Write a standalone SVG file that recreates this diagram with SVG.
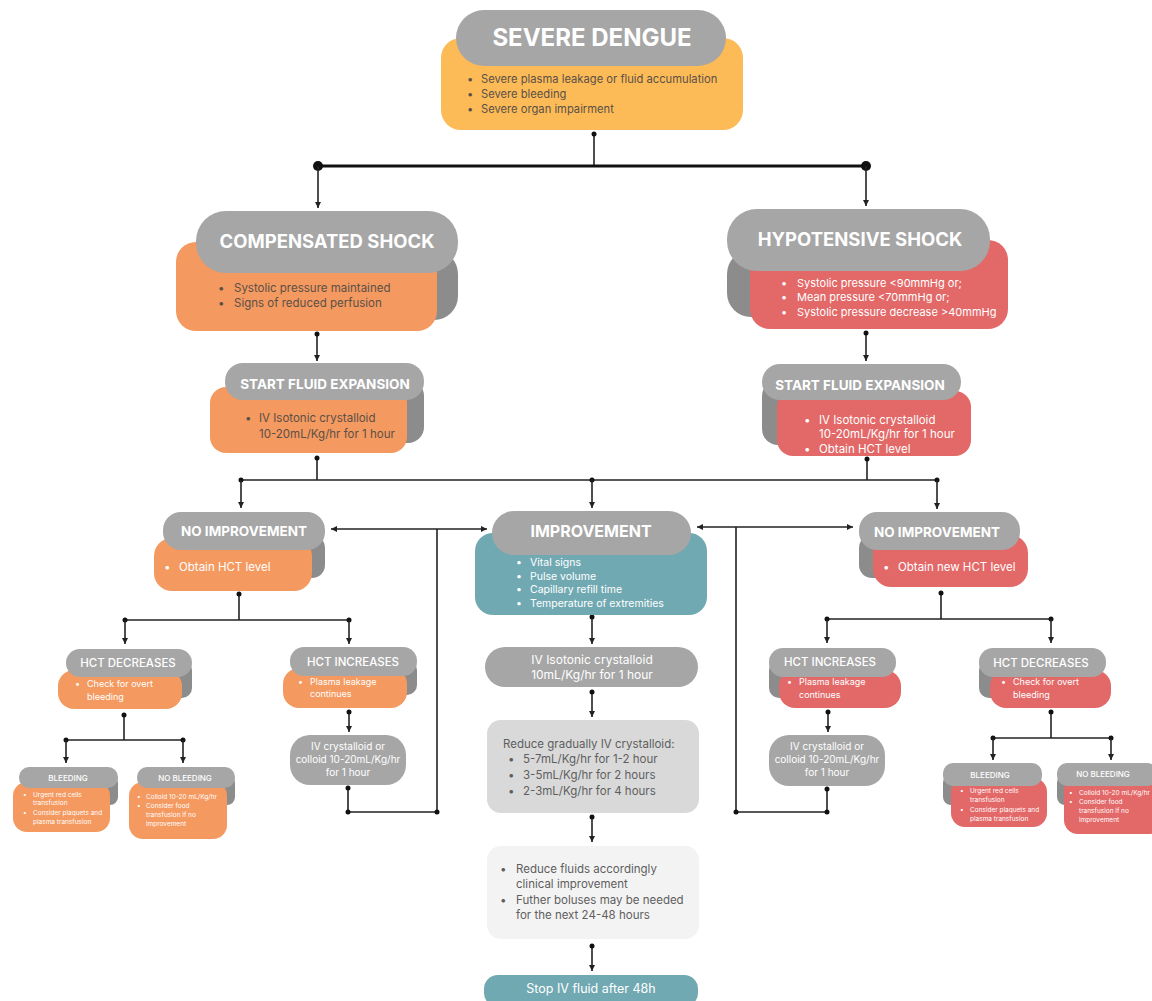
<svg xmlns="http://www.w3.org/2000/svg" width="1152" height="1001" viewBox="0 0 1152 1001">
<defs>
<style>
.hd{fill:#A6A6A6}
.cu{fill:#8C8C8C}
.yl{fill:#FDBB57}
.or{fill:#F4995F}
.rd{fill:#E36868}
.tl{fill:#71A9B2}
.lg{fill:#D9D9D9}
.vl{fill:#F4F3F3}
text{font-family:Inter,"Noto Sans","Liberation Sans",sans-serif}
.th{fill:#FFFFFF;font-weight:700;text-anchor:middle}
.tm{fill:#FFFFFF;font-weight:500;text-anchor:middle}
.tn{fill:#FFFFFF;font-weight:400;text-anchor:middle}
.dk{fill:#5A5048}
.wt{fill:#FFFFFF}
.gy{fill:#5E5E5E}
.ln{fill:none;stroke:#222;stroke-width:1.6}
.thk{fill:none;stroke:#111;stroke-width:3}
.ar{marker-end:url(#arr)}
.dt{fill:#111}
</style>
<marker id="arr" viewBox="0 0 6 6" refX="6" refY="3" markerWidth="6" markerHeight="6" markerUnits="userSpaceOnUse" orient="auto-start-reverse">
<path d="M0,0 L6,3 L0,6 z" fill="#222"/>
</marker>
</defs>
<rect width="1152" height="1001" fill="#FFFFFF"/>

<g id="connectors">
<line class="ln" x1="594" y1="133" x2="594" y2="166"/>
<line class="thk" x1="318" y1="166" x2="866" y2="166"/>
<circle class="dt" cx="318" cy="166" r="5"/>
<circle class="dt" cx="866" cy="166" r="5"/>
<circle class="dt" cx="594" cy="134" r="2.5"/>
<line class="ln ar" x1="318" y1="166" x2="318" y2="208"/>
<line class="ln ar" x1="866" y1="166" x2="866" y2="206"/>

<line class="ln ar" x1="317" y1="334" x2="317" y2="361"/>
<circle class="dt" cx="317" cy="334" r="2.5"/>
<line class="ln ar" x1="866" y1="333" x2="866" y2="361"/>
<circle class="dt" cx="866" cy="333" r="2.5"/>

<line class="ln" x1="317" y1="458" x2="317" y2="480"/>
<circle class="dt" cx="317" cy="458" r="2.5"/>
<line class="ln" x1="867" y1="459" x2="867" y2="480"/>
<circle class="dt" cx="867" cy="459" r="2.5"/>
<line class="ln" x1="241" y1="480" x2="937" y2="480"/>
<circle class="dt" cx="241" cy="480" r="2.5"/>
<circle class="dt" cx="592" cy="480" r="2.5"/>
<circle class="dt" cx="937" cy="480" r="2.5"/>
<line class="ln ar" x1="241" y1="480" x2="241" y2="508"/>
<line class="ln ar" x1="592" y1="480" x2="592" y2="508"/>
<line class="ln ar" x1="937" y1="480" x2="937" y2="509"/>

<line class="ln ar" x1="409" y1="529" x2="331" y2="529"/>
<line class="ln ar" x1="409" y1="529" x2="487" y2="529"/>
<line class="ln" x1="437" y1="529" x2="437" y2="812"/>
<line class="ln ar" x1="775" y1="527" x2="697" y2="527"/>
<line class="ln ar" x1="775" y1="527" x2="853" y2="527"/>
<line class="ln" x1="736" y1="527" x2="736" y2="812"/>

<line class="ln" x1="239" y1="594" x2="239" y2="620"/>
<circle class="dt" cx="239" cy="594" r="2.5"/>
<line class="ln" x1="125" y1="620" x2="349" y2="620"/>
<circle class="dt" cx="125" cy="620" r="2.5"/>
<circle class="dt" cx="349" cy="620" r="2.5"/>
<line class="ln ar" x1="125" y1="620" x2="125" y2="644"/>
<line class="ln ar" x1="349" y1="620" x2="349" y2="644"/>

<line class="ln" x1="124" y1="715" x2="124" y2="740"/>
<circle class="dt" cx="124" cy="715" r="2.5"/>
<line class="ln" x1="66" y1="740" x2="183" y2="740"/>
<circle class="dt" cx="66" cy="740" r="2.5"/>
<circle class="dt" cx="183" cy="740" r="2.5"/>
<line class="ln ar" x1="66" y1="740" x2="66" y2="763"/>
<line class="ln ar" x1="183" y1="740" x2="183" y2="763"/>

<line class="ln ar" x1="349" y1="712" x2="349" y2="732"/>
<circle class="dt" cx="349" cy="712" r="2.5"/>
<polyline class="ln" points="348,788 348,812 437,812"/>
<circle class="dt" cx="348" cy="788" r="2.5"/>
<circle class="dt" cx="348" cy="812" r="2.5"/>
<circle class="dt" cx="437" cy="812" r="2.5"/>

<line class="ln ar" x1="592" y1="617" x2="592" y2="644"/>
<circle class="dt" cx="592" cy="617" r="2.5"/>
<line class="ln ar" x1="592" y1="692" x2="592" y2="717"/>
<circle class="dt" cx="592" cy="692" r="2.5"/>
<line class="ln ar" x1="592" y1="817" x2="592" y2="842"/>
<circle class="dt" cx="592" cy="817" r="2.5"/>
<line class="ln ar" x1="592" y1="946" x2="592" y2="971"/>
<circle class="dt" cx="592" cy="946" r="2.5"/>

<line class="ln" x1="941" y1="593" x2="941" y2="619"/>
<circle class="dt" cx="941" cy="593" r="2.5"/>
<line class="ln" x1="827" y1="619" x2="1051" y2="619"/>
<circle class="dt" cx="827" cy="619" r="2.5"/>
<circle class="dt" cx="1051" cy="619" r="2.5"/>
<line class="ln ar" x1="827" y1="619" x2="827" y2="643"/>
<line class="ln ar" x1="1051" y1="619" x2="1051" y2="643"/>

<line class="ln ar" x1="828" y1="712" x2="828" y2="732"/>
<circle class="dt" cx="828" cy="712" r="2.5"/>
<polyline class="ln" points="827,789 827,812 736,812"/>
<circle class="dt" cx="827" cy="789" r="2.5"/>
<circle class="dt" cx="827" cy="812" r="2.5"/>
<circle class="dt" cx="736" cy="812" r="2.5"/>

<line class="ln" x1="1051" y1="712" x2="1051" y2="738"/>
<circle class="dt" cx="1051" cy="712" r="2.5"/>
<line class="ln" x1="993" y1="738" x2="1111" y2="738"/>
<circle class="dt" cx="993" cy="738" r="2.5"/>
<circle class="dt" cx="1111" cy="738" r="2.5"/>
<line class="ln ar" x1="993" y1="738" x2="993" y2="760"/>
<line class="ln ar" x1="1111" y1="738" x2="1111" y2="760"/>
</g>

<g id="severe-dengue">
<rect class="yl" x="441" y="38" width="302" height="92" rx="20"/>
<rect class="hd" x="456" y="10" width="270" height="56" rx="28"/>
<text class="th" x="592" y="46" font-size="24">SEVERE DENGUE</text>
<g class="dk" font-size="11.2">
<text x="467" y="83">•</text><text x="481" y="83">Severe plasma leakage or fluid accumulation</text>
<text x="467" y="98">•</text><text x="481" y="98">Severe bleeding</text>
<text x="467" y="113">•</text><text x="481" y="113">Severe organ impairment</text>
</g>
</g>

<g id="compensated-shock">
<rect class="cu" x="400" y="250" width="58" height="70" rx="24"/>
<rect class="or" x="176" y="242" width="261" height="89" rx="20"/>
<rect class="hd" x="196" y="211" width="262" height="62" rx="30"/>
<text class="th" x="327" y="248" font-size="18.5">COMPENSATED SHOCK</text>
<g class="dk" font-size="11.5">
<text x="218" y="292">•</text><text x="234" y="292">Systolic pressure maintained</text>
<text x="218" y="307">•</text><text x="234" y="307">Signs of reduced perfusion</text>
</g>
</g>

<g id="start-fluid-left">
<rect class="cu" x="385" y="380" width="39" height="63" rx="16"/>
<rect class="or" x="210" y="387" width="197" height="66" rx="16"/>
<rect class="hd" x="225" y="363" width="199" height="37" rx="18"/>
<text class="th" x="325" y="389" font-size="13.5">START FLUID EXPANSION</text>
<g class="dk" font-size="11.5">
<text x="245" y="422">•</text><text x="259" y="422">IV Isotonic crystalloid</text>
<text x="259" y="438">10-20mL/Kg/hr for 1 hour</text>
</g>
</g>

<g id="hypotensive-shock">
<rect class="cu" x="727" y="250" width="50" height="67" rx="24"/>
<rect class="rd" x="750" y="240" width="258" height="89" rx="20"/>
<rect class="hd" x="727" y="209" width="263" height="62" rx="30"/>
<text class="th" x="860" y="246" font-size="18.5">HYPOTENSIVE SHOCK</text>
<g class="wt" font-size="11">
<text x="781" y="287">•</text><text x="797" y="287">Systolic pressure &lt;90mmHg or;</text>
<text x="781" y="301">•</text><text x="797" y="301">Mean pressure &lt;70mmHg or;</text>
<text x="781" y="316">•</text><text x="797" y="316">Systolic pressure decrease &gt;40mmHg</text>
</g>
</g>

<g id="start-fluid-right">
<rect class="cu" x="762" y="380" width="40" height="65" rx="16"/>
<rect class="rd" x="777" y="391" width="194" height="65" rx="16"/>
<rect class="hd" x="762" y="364" width="199" height="36" rx="18"/>
<text class="th" x="860" y="390" font-size="13.5">START FLUID EXPANSION</text>
<g class="wt" font-size="11.5">
<text x="804" y="424">•</text><text x="819" y="424">IV Isotonic crystalloid</text>
<text x="819" y="438">10-20mL/Kg/hr for 1 hour</text>
<text x="804" y="453">•</text><text x="819" y="453">Obtain HCT level</text>
</g>
</g>

<g id="no-improvement-left">
<rect class="cu" x="295" y="535" width="30" height="43" rx="13"/>
<rect class="or" x="154" y="538" width="158" height="53" rx="18"/>
<rect class="hd" x="163" y="512" width="162" height="38" rx="18"/>
<text class="th" x="244" y="536" font-size="13.5">NO IMPROVEMENT</text>
<g class="wt" font-size="11.5">
<text x="164" y="571">•</text><text x="179" y="571">Obtain HCT level</text>
</g>
</g>

<g id="improvement">
<rect class="tl" x="475" y="533" width="232" height="82" rx="18"/>
<rect class="hd" x="492" y="511" width="199" height="44" rx="22"/>
<text class="th" x="591" y="537" font-size="16">IMPROVEMENT</text>
<g class="wt" font-size="10.5">
<text x="516" y="566">•</text><text x="530" y="566">Vital signs</text>
<text x="516" y="580">•</text><text x="530" y="580">Pulse volume</text>
<text x="516" y="593">•</text><text x="530" y="593">Capillary refill time</text>
<text x="516" y="607">•</text><text x="530" y="607">Temperature of extremities</text>
</g>
</g>

<g id="no-improvement-right">
<rect class="cu" x="859" y="535" width="30" height="43" rx="13"/>
<rect class="rd" x="873" y="535" width="155" height="52" rx="18"/>
<rect class="hd" x="859" y="512" width="161" height="38" rx="18"/>
<text class="th" x="937" y="537" font-size="13.5">NO IMPROVEMENT</text>
<g class="wt" font-size="11.5">
<text x="883" y="571">•</text><text x="898" y="571">Obtain new HCT level</text>
</g>
</g>

<g id="hct-decreases-left">
<rect class="cu" x="170" y="660" width="22" height="38" rx="10"/>
<rect class="or" x="58" y="670" width="124" height="39" rx="16"/>
<rect class="hd" x="66" y="649" width="126" height="28" rx="14"/>
<text class="tm" x="128" y="667" font-size="11.5">HCT DECREASES</text>
<g class="wt" font-size="9">
<text x="75" y="687">•</text><text x="87" y="687">Check for overt</text>
<text x="87" y="700">bleeding</text>
</g>
</g>

<g id="hct-increases-left">
<rect class="cu" x="395" y="660" width="22" height="35" rx="10"/>
<rect class="or" x="283" y="668" width="124" height="40" rx="16"/>
<rect class="hd" x="290" y="647" width="127" height="29" rx="14"/>
<text class="tm" x="353" y="666" font-size="11.5">HCT INCREASES</text>
<g class="wt" font-size="9">
<text x="298" y="685">•</text><text x="310" y="685">Plasma leakage</text>
<text x="310" y="697">continues</text>
</g>
</g>

<g id="iv-crystalloid-left">
<rect class="hd" x="290" y="735" width="116" height="50" rx="20"/>
<g font-size="10">
<text class="tn" x="348" y="750">IV crystalloid or</text>
<text class="tn" x="348" y="763">colloid 10-20mL/Kg/hr</text>
<text class="tn" x="348" y="776">for 1 hour</text>
</g>
</g>

<g id="bleeding-left">
<rect class="cu" x="100" y="775" width="18" height="30" rx="8"/>
<rect class="or" x="13" y="782" width="97" height="50" rx="14"/>
<rect class="hd" x="19" y="767" width="99" height="21" rx="10"/>
<text class="tm" x="68" y="781" font-size="8">BLEEDING</text>
<g class="wt" font-size="6.5">
<text x="23" y="797">•</text><text x="33" y="797">Urgent red cells</text>
<text x="33" y="805">transfusion</text>
<text x="23" y="815">•</text><text x="33" y="815">Consider plaquets and</text>
<text x="33" y="824">plasma transfusion</text>
</g>
</g>

<g id="no-bleeding-left">
<rect class="cu" x="217" y="775" width="18" height="30" rx="8"/>
<rect class="or" x="129" y="782" width="98" height="57" rx="14"/>
<rect class="hd" x="137" y="767" width="98" height="21" rx="10"/>
<text class="tm" x="185" y="781" font-size="8">NO BLEEDING</text>
<g class="wt" font-size="6.5">
<text x="137" y="799">•</text><text x="146" y="799">Colloid 10-20 mL/Kg/hr</text>
<text x="137" y="808">•</text><text x="146" y="808">Consider food</text>
<text x="146" y="817">transfusion if no</text>
<text x="146" y="826">improvement</text>
</g>
</g>

<g id="iv-isotonic-center">
<rect class="hd" x="485" y="647" width="213" height="40" rx="20"/>
<g font-size="12">
<text class="tn" x="592" y="664">IV Isotonic crystalloid</text>
<text class="tn" x="592" y="679">10mL/Kg/hr for 1 hour</text>
</g>
</g>

<g id="reduce-gradually">
<rect class="lg" x="487" y="720" width="212" height="93" rx="14"/>
<g class="gy" font-size="11.5">
<text x="503" y="748">Reduce gradually IV crystalloid:</text>
<text x="508" y="763">•</text><text x="523" y="763">5-7mL/Kg/hr for 1-2 hour</text>
<text x="508" y="779">•</text><text x="523" y="779">3-5mL/Kg/hr for 2 hours</text>
<text x="508" y="795">•</text><text x="523" y="795">2-3mL/Kg/hr for 4 hours</text>
</g>
</g>

<g id="reduce-fluids">
<rect class="vl" x="487" y="846" width="212" height="93" rx="14"/>
<g class="gy" font-size="11.5">
<text x="500" y="873">•</text><text x="516" y="873">Reduce fluids accordingly</text>
<text x="516" y="888">clinical improvement</text>
<text x="500" y="904">•</text><text x="516" y="904">Futher boluses may be needed</text>
<text x="516" y="919">for the next 24-48 hours</text>
</g>
</g>

<g id="stop-iv">
<rect class="tl" x="484" y="975" width="214" height="32" rx="14"/>
<text class="tn" x="591" y="993" font-size="12.5">Stop IV fluid after 48h</text>
</g>

<g id="hct-increases-right">
<rect class="cu" x="769" y="660" width="22" height="38" rx="10"/>
<rect class="rd" x="779" y="670" width="122" height="38" rx="16"/>
<rect class="hd" x="769" y="648" width="127" height="29" rx="14"/>
<text class="tm" x="830" y="666" font-size="11.5">HCT INCREASES</text>
<g class="wt" font-size="9">
<text x="787" y="685">•</text><text x="799" y="685">Plasma leakage</text>
<text x="799" y="698">continues</text>
</g>
</g>

<g id="iv-crystalloid-right">
<rect class="hd" x="769" y="735" width="116" height="51" rx="20"/>
<g font-size="10">
<text class="tn" x="827" y="750">IV crystalloid or</text>
<text class="tn" x="827" y="763">colloid 10-20mL/Kg/hr</text>
<text class="tn" x="827" y="776">for 1 hour</text>
</g>
</g>

<g id="hct-decreases-right">
<rect class="cu" x="979" y="660" width="22" height="38" rx="10"/>
<rect class="rd" x="990" y="670" width="121" height="38" rx="16"/>
<rect class="hd" x="979" y="648" width="127" height="29" rx="14"/>
<text class="tm" x="1041" y="667" font-size="11.5">HCT DECREASES</text>
<g class="wt" font-size="9">
<text x="1001" y="685">•</text><text x="1013" y="685">Check for overt</text>
<text x="1013" y="698">bleeding</text>
</g>
</g>

<g id="bleeding-right">
<rect class="cu" x="943" y="775" width="18" height="30" rx="8"/>
<rect class="rd" x="951" y="778" width="96" height="49" rx="14"/>
<rect class="hd" x="943" y="763" width="99" height="23" rx="10"/>
<text class="tm" x="990" y="778" font-size="8">BLEEDING</text>
<g class="wt" font-size="6.5">
<text x="960" y="793">•</text><text x="970" y="793">Urgent red cells</text>
<text x="970" y="802">transfusion</text>
<text x="960" y="812">•</text><text x="970" y="812">Consider plaquets and</text>
<text x="970" y="821">plasma transfusion</text>
</g>
</g>

<g id="no-bleeding-right">
<rect class="cu" x="1057" y="775" width="18" height="30" rx="8"/>
<rect class="rd" x="1064" y="776" width="100" height="58" rx="14"/>
<rect class="hd" x="1057" y="763" width="100" height="23" rx="10"/>
<text class="tm" x="1103" y="777" font-size="8">NO BLEEDING</text>
<g class="wt" font-size="6.5">
<text x="1069" y="795">•</text><text x="1079" y="795">Colloid 10-20 mL/Kg/hr</text>
<text x="1069" y="804">•</text><text x="1079" y="804">Consider food</text>
<text x="1079" y="813">transfusion if no</text>
<text x="1079" y="822">improvement</text>
</g>
</g>
</svg>
